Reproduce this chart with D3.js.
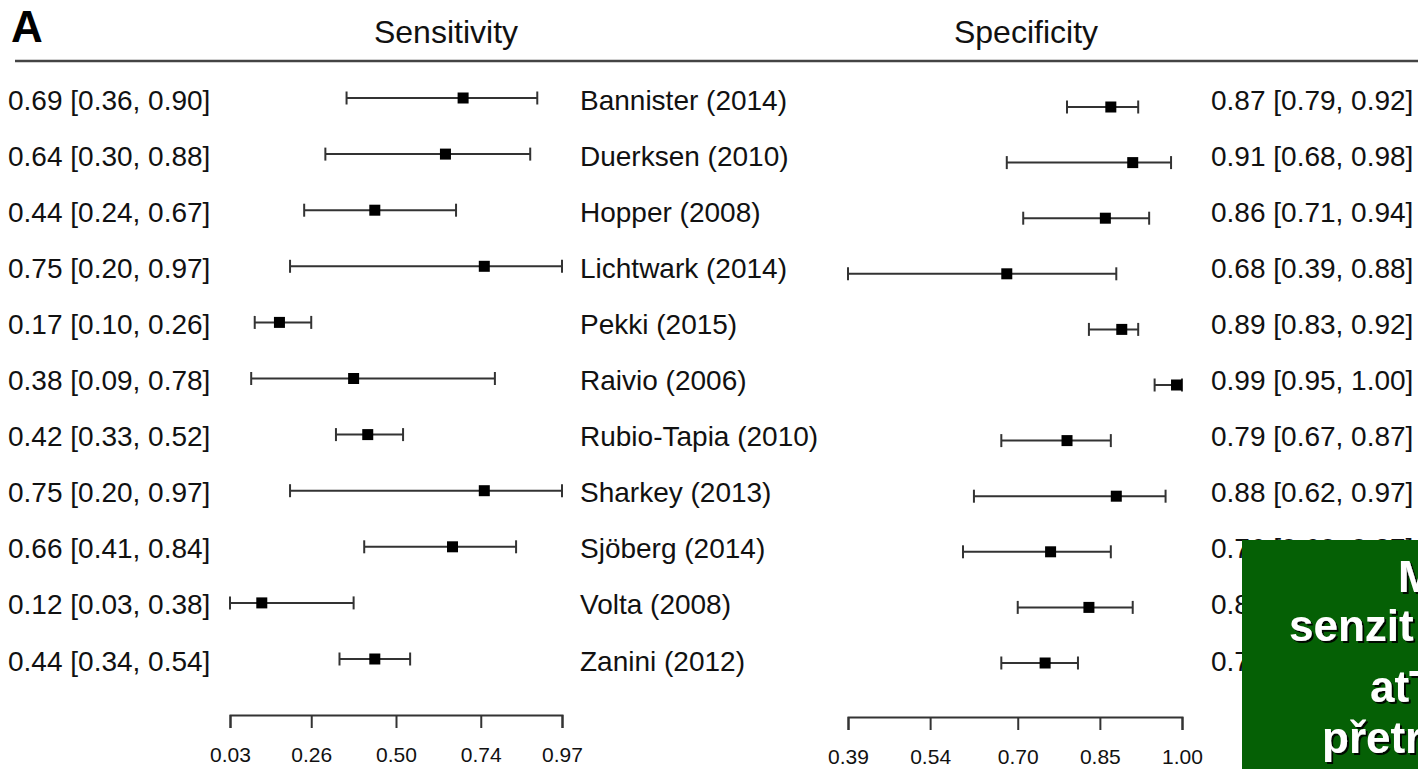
<!DOCTYPE html>
<html>
<head>
<meta charset="utf-8">
<script src="https://cdn.jsdelivr.net/npm/d3@7"></script>
<style>
  html, body { margin: 0; padding: 0; background: #fff; }
  svg { display: block; font-family: "Liberation Sans", Arial, sans-serif; }
</style>
</head>
<body>
<svg id="chart" width="1418" height="769"></svg>
<script>
// ---- data ----
const studies = ["Bannister (2014)", "Duerksen (2010)", "Hopper (2008)", "Lichtwark (2014)",
  "Pekki (2015)", "Raivio (2006)", "Rubio-Tapia (2010)", "Sharkey (2013)",
  "Sjöberg (2014)", "Volta (2008)", "Zanini (2012)"];
const sensEst = [0.69, 0.64, 0.44, 0.75, 0.17, 0.38, 0.42, 0.75, 0.66, 0.12, 0.44];
const sensLow = [0.36, 0.30, 0.24, 0.20, 0.10, 0.09, 0.33, 0.20, 0.41, 0.03, 0.34];
const sensHigh = [0.90, 0.88, 0.67, 0.97, 0.26, 0.78, 0.52, 0.97, 0.84, 0.38, 0.54];
const specEst = [0.87, 0.91, 0.86, 0.68, 0.89, 0.99, 0.79, 0.88, 0.76, 0.83, 0.75];
const specLow = [0.79, 0.68, 0.71, 0.39, 0.83, 0.95, 0.67, 0.62, 0.60, 0.70, 0.67];
const specHigh = [0.92, 0.98, 0.94, 0.88, 0.92, 1.00, 0.87, 0.97, 0.87, 0.91, 0.81];
const sensTicks = [0.03, 0.26, 0.50, 0.74, 0.97];
const specTicks = [0.39, 0.54, 0.70, 0.85, 1.00];
const panelLabel = "A";
const sensTitle = "Sensitivity";
const specTitle = "Specificity";
// visible fragments of the overlay box (rest is outside the picture)
const overlayLines = ["M", "senzit", "atT", "přetr"];

// ---- layout ----
const svg = d3.select("#chart");
const fmt = d3.format(".2f");
const label = (e, l, h) => `${fmt(e)} [${fmt(l)}, ${fmt(h)}]`;

const xSens = d3.scaleLinear().domain([0.03, 0.97]).range([230, 562]);
const xSpec = d3.scaleLinear().domain([0.39, 1.00]).range([848, 1182]);
const ySens = d3.scalePoint().domain(studies).range([98, 659]);
const ySpec = d3.scalePoint().domain(studies).range([107, 663]);

const defs = svg.append("defs");
const f = defs.append("filter").attr("id", "shadow").attr("x", "-10%").attr("y", "-10%")
  .attr("width", "130%").attr("height", "130%");
f.append("feDropShadow").attr("dx", 2).attr("dy", 2).attr("stdDeviation", 0.6)
  .attr("flood-color", "#000").attr("flood-opacity", 0.9);

// header
svg.append("text").attr("x", 11).attr("y", 42).attr("font-size", 44).attr("font-weight", "bold")
  .attr("fill", "#000").text(panelLabel);
svg.append("text").attr("x", 446).attr("y", 43).attr("font-size", 32).attr("text-anchor", "middle")
  .attr("fill", "#111").text(sensTitle);
svg.append("text").attr("x", 1026).attr("y", 43).attr("font-size", 32).attr("text-anchor", "middle")
  .attr("fill", "#111").text(specTitle);
svg.append("line").attr("x1", 15).attr("x2", 1418).attr("y1", 61).attr("y2", 61)
  .attr("stroke", "#444").attr("stroke-width", 2.5);

// text columns
const rowsG = svg.append("g").attr("font-size", 28).attr("fill", "#111");
studies.forEach((s, i) => {
  const y = ySens(s) + 2;
  rowsG.append("text").attr("x", 8).attr("y", y).attr("dominant-baseline", "central")
    .text(label(sensEst[i], sensLow[i], sensHigh[i]));
  rowsG.append("text").attr("x", 580).attr("y", y).attr("dominant-baseline", "central").text(s);
  rowsG.append("text").attr("x", 1211).attr("y", y).attr("dominant-baseline", "central")
    .text(label(specEst[i], specLow[i], specHigh[i]));
});

// forest marks
function drawForest(x, y, est, lo, hi) {
  const g = svg.append("g");
  studies.forEach((s, i) => {
    const yy = y(s);
    g.append("line").attr("x1", x(lo[i])).attr("x2", x(hi[i])).attr("y1", yy).attr("y2", yy)
      .attr("stroke", "#333").attr("stroke-width", 2);
    [lo[i], hi[i]].forEach(v => {
      g.append("line").attr("x1", x(v)).attr("x2", x(v)).attr("y1", yy - 6.5).attr("y2", yy + 6.5)
        .attr("stroke", "#333").attr("stroke-width", 2);
    });
    g.append("rect").attr("x", x(est[i]) - 5.5).attr("y", yy - 5.5).attr("width", 11).attr("height", 11)
      .attr("fill", "#000");
  });
}
drawForest(xSens, ySens, sensEst, sensLow, sensHigh);
drawForest(xSpec, ySpec, specEst, specLow, specHigh);

// axes
function drawAxis(x, ticks, yPos) {
  const g = svg.append("g").attr("transform", `translate(0,${yPos})`)
    .call(d3.axisBottom(x).tickValues(ticks).tickFormat(fmt).tickSize(13).tickSizeOuter(13).tickPadding(19));
  g.select(".domain").attr("stroke", "#333").attr("stroke-width", 2);
  g.selectAll(".tick line").attr("stroke", "#333").attr("stroke-width", 2);
  g.selectAll(".tick text").attr("font-size", 21).attr("fill", "#111")
    .attr("font-family", "'Liberation Sans', Arial, sans-serif");
}
drawAxis(xSens, sensTicks, 715);
drawAxis(xSpec, specTicks, 717);

// green overlay box
const ov = svg.append("g");
ov.append("rect").attr("x", 1242).attr("y", 540).attr("width", 176).attr("height", 229).attr("fill", "#056005");
const ovX = [1398, 1289, 1370, 1322];
const ovY = [592, 641, 702, 753];
overlayLines.forEach((t, i) => {
  ov.append("text").attr("x", ovX[i]).attr("y", ovY[i]).attr("font-size", 44)
    .attr("font-weight", "bold").attr("fill", "#fff").attr("filter", "url(#shadow)").text(t);
});
</script>
</body>
</html>
